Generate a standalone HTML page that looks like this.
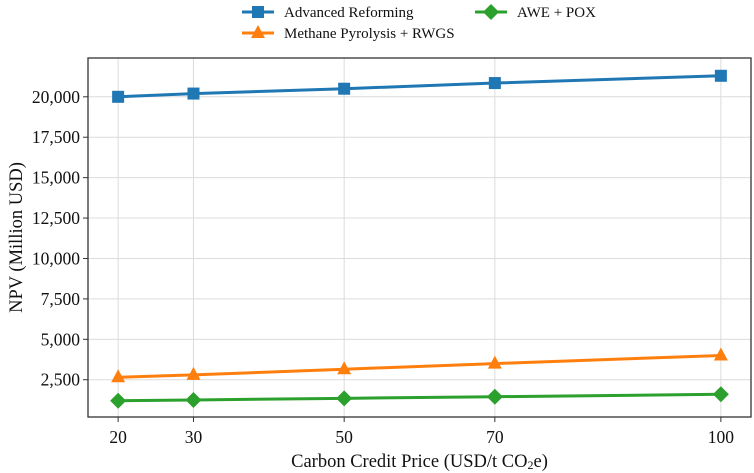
<!DOCTYPE html>
<html><head><meta charset="utf-8"><style>
body{margin:0;background:#fff}
svg{display:block;font-family:"Liberation Serif",serif}
</style></head><body>
<svg id="c" width="754" height="473"></svg>
<script>
const categories=[20,30,50,70,100];
const advanced=[20000,20200,20500,20850,21300];
const methane=[2650,2800,3150,3500,4000];
const awe=[1200,1250,1350,1450,1600];
const yTicks=[2500,5000,7500,10000,12500,15000,17500,20000];
const yTickLabels=["2,500","5,000","7,500","10,000","12,500","15,000","17,500","20,000"];
const L=88,R=751,T=58,B=417;
const xs=v=>L+(v-16)/(104-16)*(R-L);
const ys=v=>B-(v-195)/(22400-195)*(B-T);
const svg=document.getElementById('c');
const NS='http://www.w3.org/2000/svg';
function mk(t,a,p){const e=document.createElementNS(NS,t);for(const k in a)e.setAttribute(k,a[k]);(p||svg).appendChild(e);return e;}
const grid=mk('g',{});


categories.forEach(c=>{mk('line',{x1:xs(c),x2:xs(c),y1:T,y2:B,stroke:'#dcdcdc','stroke-width':1},grid);
mk('line',{x1:xs(c),x2:xs(c),y1:B,y2:B+5,stroke:'#333','stroke-width':1});
const l=mk('text',{x:xs(c),y:443,'text-anchor':'middle','font-size':17.5,fill:'#111'});l.textContent=c;

});
yTicks.forEach((v,i)=>{mk('line',{x1:L,x2:R,y1:ys(v),y2:ys(v),stroke:'#dcdcdc','stroke-width':1},grid);
mk('line',{x1:L-5,x2:L,y1:ys(v),y2:ys(v),stroke:'#333','stroke-width':1});
const l=mk('text',{x:L-8,y:ys(v)+6,'text-anchor':'end','font-size':17.5,fill:'#111'});l.textContent=yTickLabels[i];

});
const frame=mk('rect',{x:L,y:T,width:R-L,height:B-T,fill:'none',stroke:'#333','stroke-width':1.3});


function marker(type,x,y,col,g){
 if(type==='s')return mk('rect',{x:x-6,y:y-6,width:12,height:12,fill:col},g);
 if(type==='t')return mk('polygon',{points:`${x},${y-8} ${x+7},${y+5} ${x-7},${y+5}`,fill:col},g);
 return mk('polygon',{points:`${x},${y-8} ${x+8},${y} ${x},${y+8} ${x-8},${y}`,fill:col},g);
}
const series=[[advanced,'#1f77b4','s','series-advanced-reforming'],[methane,'#ff7f0e','t','series-methane-pyrolysis'],[awe,'#2ca02c','d','series-awe-pox']];
series.forEach(([d,col,m,n])=>{const g=mk('g',{});


mk('polyline',{points:d.map((v,i)=>xs(categories[i])+','+ys(v)).join(' '),fill:'none',stroke:col,'stroke-width':3},g);
d.forEach((v,i)=>marker(m,xs(categories[i]),ys(v),col,g));});
const xt=mk('text',{x:(L+R)/2,y:467,'text-anchor':'middle','font-size':18.5,fill:'#111'});
xt.innerHTML='Carbon Credit Price (USD/t CO<tspan font-size="12" dy="2">2</tspan><tspan dy="-2">e)</tspan>';


const yt=mk('text',{x:0,y:0,transform:`translate(22,${(T+B)/2}) rotate(-90)`,'text-anchor':'middle','font-size':18.5,fill:'#111'});
yt.textContent='NPV (Million USD)';


const leg=[['Advanced Reforming','#1f77b4','s',242,12],['Methane Pyrolysis + RWGS','#ff7f0e','t',242,33],['AWE + POX','#2ca02c','d',475,12]];
leg.forEach(([n,col,m,x,y])=>{const g=mk('g',{});


mk('line',{x1:x,x2:x+32,y1:y,y2:y,stroke:col,'stroke-width':3},g);
marker(m,x+16,y,col,g);
const t=mk('text',{x:x+42,y:y+5,'font-size':15,fill:'#111'},g);t.textContent=n;});
</script>
</body></html>
